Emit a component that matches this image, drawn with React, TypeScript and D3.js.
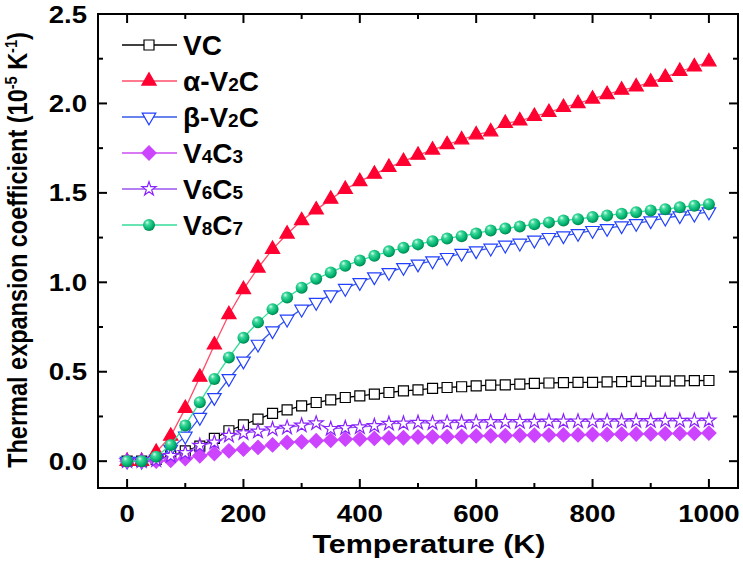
import React from "react";
import * as d3 from "d3";

const WIDTH = 743;
const HEIGHT = 566;
const FONT = "'Liberation Sans', Arial, Helvetica, sans-serif";
const STRETCH = 1.15; // the source figure is a bit wider than tall

const TEMPS = [
  0, 25, 50, 75, 100, 125, 150, 175, 200, 225, 250, 275, 300, 325, 350, 375, 400, 425, 450, 475,
  500, 525, 550, 575, 600, 625, 650, 675, 700, 725, 750, 775, 800, 825, 850, 875, 900, 925, 950,
  975, 1000,
];

const VC = [
  0, 0, 0.01, 0.03, 0.058, 0.084, 0.127, 0.17, 0.203, 0.235, 0.267, 0.287, 0.309, 0.328, 0.343,
  0.356, 0.365, 0.375, 0.384, 0.393, 0.399, 0.407, 0.412, 0.416, 0.421, 0.425, 0.427, 0.431, 0.435,
  0.437, 0.439, 0.44, 0.441, 0.443, 0.445, 0.446, 0.447, 0.448, 0.449, 0.45, 0.451,
];
const ALPHA_V2C = [
  0, 0, 0.05, 0.14, 0.295, 0.47, 0.65, 0.82, 0.96, 1.08, 1.185, 1.27, 1.345, 1.405, 1.465, 1.52,
  1.564, 1.605, 1.643, 1.676, 1.711, 1.74, 1.77, 1.797, 1.825, 1.842, 1.889, 1.903, 1.928, 1.95,
  1.978, 2.0, 2.025, 2.05, 2.075, 2.093, 2.12, 2.146, 2.18, 2.205, 2.233,
];
const BETA_V2C = [
  0, 0, 0.01, 0.067, 0.14, 0.245, 0.356, 0.462, 0.56, 0.654, 0.729, 0.794, 0.85, 0.888, 0.93,
  0.966, 0.999, 1.031, 1.055, 1.083, 1.102, 1.12, 1.139, 1.162, 1.176, 1.191, 1.208, 1.219, 1.236,
  1.251, 1.26, 1.273, 1.29, 1.301, 1.316, 1.329, 1.344, 1.359, 1.372, 1.381, 1.394,
];
const V4C3 = [
  0, 0, 0, 0.005, 0.015, 0.03, 0.043, 0.058, 0.067, 0.077, 0.091, 0.105, 0.108, 0.114, 0.117,
  0.123, 0.124, 0.127, 0.13, 0.131, 0.135, 0.136, 0.137, 0.138, 0.141, 0.142, 0.142, 0.145, 0.145,
  0.146, 0.147, 0.147, 0.149, 0.149, 0.151, 0.152, 0.153, 0.154, 0.155, 0.155, 0.157,
];
const V6C5 = [
  0, 0, 0.005, 0.03, 0.046, 0.087, 0.105, 0.142, 0.157, 0.166, 0.179, 0.188, 0.2, 0.212, 0.181,
  0.186, 0.19, 0.197, 0.21, 0.211, 0.215, 0.213, 0.216, 0.217, 0.218, 0.219, 0.22, 0.22, 0.221,
  0.222, 0.222, 0.223, 0.223, 0.224, 0.224, 0.225, 0.225, 0.226, 0.226, 0.227, 0.228,
];
const V8C7 = [
  0, 0, 0.025, 0.09, 0.2, 0.33, 0.46, 0.58, 0.69, 0.776, 0.85, 0.915, 0.97, 1.02, 1.055, 1.092,
  1.122, 1.148, 1.173, 1.193, 1.212, 1.23, 1.245, 1.258, 1.273, 1.29, 1.301, 1.312, 1.324, 1.335,
  1.346, 1.353, 1.365, 1.374, 1.383, 1.392, 1.402, 1.409, 1.419, 1.428, 1.437,
];

const X_MAJOR = [0, 200, 400, 600, 800, 1000];
const X_MINOR = [100, 300, 500, 700, 900];
const Y_MAJOR = [0, 0.5, 1.0, 1.5, 2.0, 2.5];
const Y_MINOR = [0.25, 0.75, 1.25, 1.75, 2.25];

// legend label pieces: [text, isSubscript]
const SERIES = [
  { name: [["VC", false]], values: VC, marker: "square", line: "#000000", stroke: "#000000", fill: "#ffffff" },
  { name: [["α-V", false], ["2", true], ["C", false]], values: ALPHA_V2C, marker: "triUp", line: "#ff4d6a", stroke: "#ff0030", fill: "#ff0030" },
  { name: [["β-V", false], ["2", true], ["C", false]], values: BETA_V2C, marker: "triDown", line: "#3658e8", stroke: "#2240ff", fill: "#ffffff" },
  { name: [["V", false], ["4", true], ["C", false], ["3", true]], values: V4C3, marker: "diamond", line: "#cc4cf0", stroke: "#cc44ff", fill: "#cc44ff" },
  { name: [["V", false], ["6", true], ["C", false], ["5", true]], values: V6C5, marker: "star", line: "#9a55ee", stroke: "#8a22ff", fill: "#ffffff" },
  { name: [["V", false], ["8", true], ["C", false], ["7", true]], values: V8C7, marker: "ball", line: "#33dd99", stroke: "none", fill: "url(#ball)" },
];

const x = d3.scaleLinear().domain([-50, 1050]).range([98, 738]);
const y = d3.scaleLinear().domain([-0.15, 2.5]).range([488, 14]);

const symbols: Record<string, string> = {
  square: d3.symbol(d3.symbolSquare, 100)() as string,
  triUp: d3.symbol(d3.symbolTriangle, 88)() as string,
  triDown: d3.symbol(d3.symbolTriangle, 80)() as string,
  diamond: d3.symbol(d3.symbolSquare, 100)() as string,
  star: d3.symbol(d3.symbolStar, 62)() as string,
};

function Marker({ kind, cx, cy, stroke, fill }: any) {
  if (kind === "ball") {
    return <circle cx={cx} cy={cy} r={6} fill={fill} />;
  }
  const rot = kind === "triDown" ? 180 : kind === "diamond" ? 45 : 0;
  return (
    <path
      d={symbols[kind]}
      transform={`translate(${cx},${cy}) rotate(${rot})`}
      fill={fill}
      stroke={stroke}
      strokeWidth={1.2}
    />
  );
}

export default function App() {
  const line = d3
    .line<number>()
    .x((_, i) => x(TEMPS[i]))
    .y((d) => y(d));
  const fmt = d3.format(".1f");
  const [x0, x1] = x.range();
  const [y0, y1] = y.range();

  return (
    <svg
      width={WIDTH}
      height={HEIGHT}
      style={{ position: "absolute", left: 0, top: 0, background: "#fff" }}
      fontFamily={FONT}
      fontWeight="bold"
    >
      <defs>
        <radialGradient id="ball" cx="0.42" cy="0.4" r="0.62" fx="0.34" fy="0.28">
          <stop offset="0" stopColor="#d8fff0" />
          <stop offset="0.3" stopColor="#3fd99c" />
          <stop offset="0.75" stopColor="#00b26e" />
          <stop offset="1" stopColor="#007f4c" />
        </radialGradient>
      </defs>

      {/* data */}
      {SERIES.map((s, si) => (
        <g key={si}>
          <path d={line(s.values) as string} fill="none" stroke={s.line} strokeWidth={1.3} />
          {s.values.map((v, i) => (
            <Marker key={i} kind={s.marker} cx={x(TEMPS[i])} cy={y(v)} stroke={s.stroke} fill={s.fill} />
          ))}
        </g>
      ))}

      {/* frame */}
      <rect x={x0} y={y1} width={x1 - x0} height={y0 - y1} fill="none" stroke="#000" strokeWidth={2} />

      {/* ticks, inward on all four sides */}
      {X_MAJOR.concat(X_MINOR).map((t) => {
        const len = X_MAJOR.includes(t) ? 9 : 5;
        return (
          <g key={"xt" + t} stroke="#000" strokeWidth={2}>
            <line x1={x(t)} x2={x(t)} y1={y0} y2={y0 - len} />
            <line x1={x(t)} x2={x(t)} y1={y1} y2={y1 + len} />
          </g>
        );
      })}
      {Y_MAJOR.concat(Y_MINOR).map((t) => {
        const len = Y_MAJOR.includes(t) ? 9 : 5;
        return (
          <g key={"yt" + t} stroke="#000" strokeWidth={2}>
            <line x1={x0} x2={x0 + len} y1={y(t)} y2={y(t)} />
            <line x1={x1} x2={x1 - len} y1={y(t)} y2={y(t)} />
          </g>
        );
      })}

      {/* tick labels */}
      {X_MAJOR.map((t) => (
        <text key={"xl" + t} transform={`translate(${x(t)},522) scale(${STRETCH},1)`} textAnchor="middle" fontSize={24}>
          {t}
        </text>
      ))}
      {Y_MAJOR.map((t) => (
        <text key={"yl" + t} transform={`translate(87,${y(t) + 8.5}) scale(${STRETCH},1)`} textAnchor="end" fontSize={24}>
          {fmt(t)}
        </text>
      ))}

      {/* axis titles */}
      <text transform={`translate(${(x0 + x1) / 2 + 11},553) scale(${STRETCH},1)`} textAnchor="middle" fontSize={26.5}>
        Temperature (K)
      </text>
      <text transform={`translate(27,250) rotate(-90) scale(1,${STRETCH})`} textAnchor="middle" fontSize={23.5}>
        Thermal expansion coefficient (10
        <tspan fontSize={14.5} dy={-9}>-5</tspan>
        <tspan dy={9}> K</tspan>
        <tspan fontSize={14.5} dy={-9}>-1</tspan>
        <tspan dy={9}>)</tspan>
      </text>

      {/* legend */}
      {SERIES.map((s, i) => {
        const cy = 45 + i * 36;
        return (
          <g key={"lg" + i}>
            <line x1={122} x2={177} y1={cy} y2={cy} stroke={s.line} strokeWidth={1.3} />
            <Marker kind={s.marker} cx={149} cy={cy} stroke={s.stroke} fill={s.fill} />
            <text x={183} y={cy + 10} fontSize={28}>
              {s.name.map(([txt, sub]: any, k: number) => (
                <tspan key={k} fontSize={sub ? 19 : 28}>
                  {txt}
                </tspan>
              ))}
            </text>
          </g>
        );
      })}
    </svg>
  );
}
